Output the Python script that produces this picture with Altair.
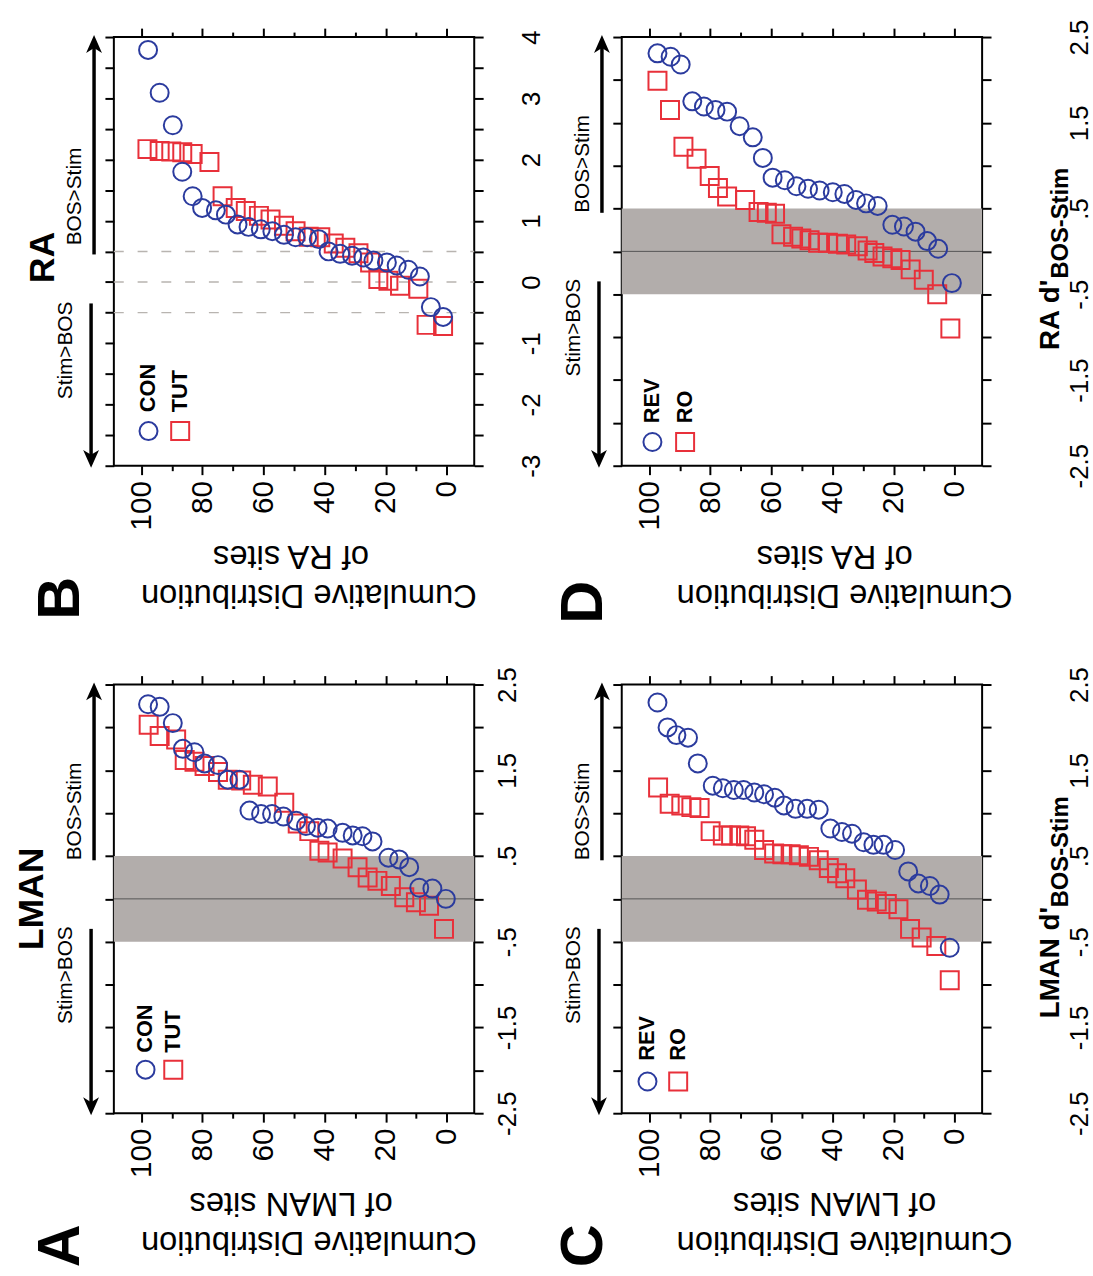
import altair as alt
import pandas as pd

# ---------------- data ----------------
# Panel A: LMAN, CON vs TUT
A_CON_CUM = [97.8, 94.0, 89.7, 86.4, 82.6, 79.3, 74.9, 71.7, 67.9, 64.6, 60.8, 57.2, 53.5, 49.3,
             46.1, 42.3, 39.0, 34.1, 30.8, 27.6, 24.3, 19.1, 15.6, 12.3, 9.0, 4.7, 0.3]
A_CON_D = [2.27, 2.24, 2.05, 1.75, 1.71, 1.58, 1.56, 1.39, 1.39, 1.03, 0.99, 0.99, 0.96, 0.91,
           0.85, 0.83, 0.82, 0.77, 0.74, 0.73, 0.67, 0.48, 0.46, 0.37, 0.13, 0.12, 0.0]
A_TUT_CUM = [97.6, 94.0, 88.6, 85.8, 82.6, 79.3, 74.9, 71.7, 67.3, 63.5, 58.6, 53.2, 48.8, 45.0,
             41.7, 39.0, 34.1, 29.2, 25.9, 22.7, 18.3, 13.9, 10.1, 5.8, 0.9]
A_TUT_D = [2.03, 1.90, 1.86, 1.62, 1.60, 1.55, 1.48, 1.39, 1.38, 1.33, 1.31, 1.12, 0.88, 0.79,
           0.56, 0.54, 0.47, 0.37, 0.25, 0.21, 0.15, 0.02, -0.04, -0.08, -0.35]

# Panel B: RA, CON vs TUT
B_CON_CUM = [97.8, 94.0, 89.7, 86.6, 83.2, 80.1, 75.6, 72.3, 68.5, 64.9, 60.9, 57.1, 53.3, 49.5,
             45.7, 41.9, 38.7, 34.9, 31.0, 27.3, 24.0, 19.6, 16.4, 12.6, 8.8, 5.2, 1.2]
B_CON_D = [3.79, 3.09, 2.56, 1.80, 1.40, 1.21, 1.17, 1.10, 0.94, 0.90, 0.86, 0.83, 0.77, 0.73,
           0.73, 0.70, 0.50, 0.46, 0.43, 0.40, 0.35, 0.32, 0.27, 0.20, 0.09, -0.41, -0.57]
B_TUT_CUM = [98.0, 94.0, 90.2, 86.6, 83.2, 77.7, 73.4, 69.1, 65.8, 61.5, 57.7, 53.3, 49.5, 45.2,
             41.4, 37.0, 33.2, 28.9, 25.1, 22.4, 19.1, 15.3, 9.3, 6.6, 1.2]
B_TUT_D = [2.17, 2.14, 2.13, 2.12, 2.09, 1.96, 1.40, 1.21, 1.16, 1.08, 1.02, 0.92, 0.83, 0.74,
           0.73, 0.63, 0.56, 0.47, 0.32, 0.05, 0.02, -0.06, -0.11, -0.70, -0.72]

# Panel C: LMAN, REV vs RO
C_REV_CUM = [97.3, 94.0, 91.1, 87.3, 84.1, 79.2, 75.9, 72.3, 69.1, 65.6, 62.4, 58.9, 55.9, 52.1,
             48.3, 44.5, 40.7, 36.9, 33.6, 29.8, 26.6, 23.3, 19.5, 15.2, 11.9, 8.1, 4.9, 1.6]
C_REV_D = [2.29, 2.00, 1.91, 1.88, 1.58, 1.32, 1.29, 1.27, 1.27, 1.24, 1.22, 1.18, 1.09, 1.05,
           1.05, 1.04, 0.82, 0.78, 0.76, 0.66, 0.63, 0.63, 0.57, 0.32, 0.18, 0.15, 0.05, -0.57]
C_RO_CUM = [97.1, 93.3, 89.5, 86.2, 83.5, 79.9, 75.9, 73.2, 70.5, 68.3, 65.6, 62.4, 59.1, 56.4,
            53.7, 51.0, 47.7, 44.5, 41.2, 38.5, 35.8, 32.0, 28.7, 25.5, 22.2, 18.4, 14.6, 10.8, 6.0, 1.6]
C_RO_D = [1.30, 1.11, 1.09, 1.07, 1.06, 0.79, 0.74, 0.74, 0.74, 0.73, 0.69, 0.57, 0.53, 0.52,
          0.52, 0.51, 0.49, 0.45, 0.36, 0.30, 0.24, 0.11, -0.01, -0.03, -0.06, -0.12, -0.35, -0.45, -0.55, -0.95]

# Panel D: RA, REV vs RO
D_REV_CUM = [97.3, 93.0, 89.7, 85.9, 82.1, 78.3, 74.5, 70.4, 66.1, 62.8, 59.6, 55.6, 51.8, 48.0,
             44.2, 39.9, 36.1, 32.3, 29.0, 25.2, 20.4, 16.6, 12.8, 9.0, 5.4, 0.9]
D_REV_D = [2.31, 2.27, 2.18, 1.75, 1.69, 1.65, 1.63, 1.46, 1.33, 1.09, 0.86, 0.83, 0.76, 0.73,
           0.71, 0.69, 0.67, 0.60, 0.56, 0.53, 0.31, 0.29, 0.23, 0.12, 0.03, -0.37]
D_RO_CUM = [97.3, 93.2, 88.8, 84.5, 80.2, 77.5, 74.5, 68.6, 64.2, 61.5, 58.8, 56.7, 52.9, 50.2,
            47.5, 44.7, 41.5, 38.2, 35.5, 31.7, 28.5, 26.3, 23.6, 20.4, 17.7, 14.4, 10.1, 5.7, 1.4]
D_RO_D = [1.99, 1.65, 1.22, 1.08, 0.88, 0.74, 0.64, 0.60, 0.46, 0.45, 0.44, 0.20, 0.17, 0.15,
          0.13, 0.10, 0.10, 0.09, 0.08, 0.06, 0.01, -0.02, -0.06, -0.08, -0.10, -0.21, -0.33, -0.50, -0.90]

CUM_TICKS = [0, 10, 20, 30, 40, 50, 60, 70, 80, 90, 100]
D_TICKS_25 = [-2.5, -2.0, -1.5, -1.0, -0.5, 0.0, 0.5, 1.0, 1.5, 2.0, 2.5]
D_TICKS_RA = [-3.0, -2.5, -2.0, -1.5, -1.0, -0.5, 0.0, 0.5, 1.0, 1.5, 2.0, 2.5, 3.0, 3.5, 4.0]

# ---------------- style ----------------
FONT = "Liberation Sans"
W, H = 364, 433
BLUE = "#2b3b9e"
RED = "#e8303a"
BAND = "#b2adab"
XDOM = [-9, 109]
UP = "M0,-1L0.8,0.8L0,0.3L-0.8,0.8Z"
DOWN = "M0,1L0.8,-0.8L0,-0.3L-0.8,-0.8Z"

CUM_LAB = "datum.value % 20 == 0 ? toString(datum.value) : ''"
CUM_TICK = {"condition": {"test": "datum.value % 20 == 0", "value": 9}, "value": 5}
YLAB_HALF = ("(abs(datum.value*2) % 2 == 1) ? ((datum.value < 0 ? '-' : '') + "
             "(abs(datum.value) < 1 ? '.5' : toString(abs(datum.value)))) : ''")
YLAB_INT = "(datum.value % 1 == 0) ? ((datum.value < 0 ? '-' : '') + toString(abs(datum.value))) : ''"


def one():
    return pd.DataFrame({"k": [0]})


def txt(t, x, y, size, weight="normal", angle=270, align="center", baseline="middle"):
    return alt.Chart(one()).mark_text(
        text=t, font=FONT, fontSize=size, fontWeight=weight, angle=angle,
        align=align, baseline=baseline, color="black"
    ).encode(x=alt.value(x), y=y)


def make_panel(p):
    xs = alt.Scale(domain=XDOM, reverse=True, nice=False, zero=False)
    ys = alt.Scale(domain=p["ydom"], nice=False, zero=False)

    def yd(v):
        return alt.YDatum(v, scale=ys, axis=None)

    layers = []
    if p["band"]:
        layers.append(alt.Chart(one()).mark_rect(color=BAND).encode(
            x=alt.value(0), x2=alt.value(W), y=yd(0.5), y2=alt.datum(-0.5)))
        layers.append(alt.Chart(one()).mark_rule(color="#555555", strokeWidth=1).encode(
            x=alt.value(0), x2=alt.value(W), y=yd(0.0)))
    else:
        for v in [0.5, 0.0, -0.5]:
            layers.append(alt.Chart(one()).mark_rule(
                color="#b8b4b0", strokeWidth=1.5, strokeDash=[10, 14]).encode(
                x=alt.value(0), x2=alt.value(W), y=yd(v)))

    df1 = pd.DataFrame({"cum": p["c1"], "d": p["d1"]})
    df2 = pd.DataFrame({"cum": p["c2"], "d": p["d2"]})

    top_axis = alt.Axis(orient="top", values=CUM_TICKS, labels=False, tickSize=CUM_TICK,
                        title=None, domain=False, grid=False)
    left_axis = alt.Axis(orient="left", values=p["yticks"], labels=False, tickSize=9,
                         title=None, domain=False, grid=False)
    bottom_axis = alt.Axis(orient="bottom", values=CUM_TICKS, labelExpr=CUM_LAB, tickSize=CUM_TICK,
                           labelAngle=270, labelAlign="right", labelBaseline="middle",
                           labelFontSize=30, labelPadding=6, labelOverlap=False,
                           title=None, domain=False, grid=False)
    right_axis = alt.Axis(orient="right", values=p["yticks"], labelExpr=p["ylab"], tickSize=9,
                          labelAngle=270, labelAlign="center", labelBaseline="top",
                          labelFontSize=26, labelPadding=p["lpad"], labelOverlap=False,
                          title=None, domain=False, grid=False)

    layers.append(alt.Chart(df2).mark_point(
        shape="square", size=330, strokeWidth=2, color=RED, filled=False, opacity=1).encode(
        x=alt.X("cum:Q", scale=xs, axis=top_axis),
        y=alt.Y("d:Q", scale=ys, axis=left_axis)))
    layers.append(alt.Chart(df1).mark_point(
        shape="circle", size=330, strokeWidth=2, color=BLUE, filled=False, opacity=1).encode(
        x=alt.X("cum:Q", scale=xs, axis=bottom_axis),
        y=alt.Y("d:Q", scale=ys, axis=right_axis)))

    # legend
    lx1, lx2, ly, lt = p["leg"]
    layers.append(alt.Chart(one()).mark_point(
        shape="circle", size=330, strokeWidth=2, color=BLUE, filled=False, opacity=1).encode(
        x=alt.value(lx1), y=alt.value(ly)))
    layers.append(alt.Chart(one()).mark_point(
        shape="square", size=330, strokeWidth=2, color=RED, filled=False, opacity=1).encode(
        x=alt.value(lx2), y=alt.value(ly)))
    layers.append(txt(p["names"][0], lx1, alt.value(lt), 22, "bold", align="left"))
    layers.append(txt(p["names"][1], lx2, alt.value(lt), 22, "bold", align="left"))

    # direction arrows
    layers.append(alt.Chart(one()).mark_rule(color="black", strokeWidth=3.5).encode(
        x=alt.value(-20), y=yd(0.45), y2=alt.value(4)))
    layers.append(alt.Chart(one()).mark_point(shape=UP, size=400, filled=True, color="black",
                                              opacity=1).encode(x=alt.value(-20), y=alt.value(8)))
    layers.append(alt.Chart(one()).mark_rule(color="black", strokeWidth=3.5).encode(
        x=alt.value(-23), y=yd(-0.35), y2=alt.value(H - 4)))
    layers.append(alt.Chart(one()).mark_point(shape=DOWN, size=400, filled=True, color="black",
                                              opacity=1).encode(x=alt.value(-23), y=alt.value(H - 8)))
    layers.append(txt("BOS>Stim", -39, yd(p["bos_at"]), 21, align="left"))
    layers.append(txt("Stim>BOS", -48, yd(-0.32), 21, align="right"))

    # y-axis (cumulative) title, upside down
    tx1, tx2 = p["tx"]
    layers.append(txt("Cumulative Distribution", tx1, alt.value(H + 130), 33, angle=180))
    layers.append(txt("of " + p["site"] + " sites", tx2, alt.value(H + 91), 33, angle=180))

    # panel letter
    lx, lyy = p["letter_xy"]
    layers.append(txt(p["letter"], lx, alt.value(lyy), 60, "bold"))

    # column title
    if p.get("region"):
        rx, rd = p["region"]
        layers.append(txt(p["site"], rx, yd(rd), 36, "bold"))

    # d' axis title with subscript
    if p.get("dtitle"):
        mx, my, sy = p["dtitle"]
        layers.append(txt(p["site"] + " d'", mx, alt.value(my), 28, "bold", align="left"))
        layers.append(txt("BOS-Stim", mx + 10, alt.value(sy), 24, "bold", align="left"))

    if p.get("anchor"):
        layers.append(alt.Chart(one()).mark_point(size=1, opacity=0).encode(
            x=alt.value(-113), y=alt.value(-50)))

    return alt.layer(*layers).properties(width=W, height=H).resolve_axis(
        x="independent", y="independent")


pA = make_panel(dict(c1=A_CON_CUM, d1=A_CON_D, c2=A_TUT_CUM, d2=A_TUT_D, names=["CON", "TUT"],
                     ydom=[-2.5, 2.5], yticks=D_TICKS_25, ylab=YLAB_HALF, lpad=12, band=True,
                     leg=[32, 60, 389, 372], bos_at=0.45, tx=[197, 179], letter="A",
                     letter_xy=[-53, H + 134], site="LMAN", region=[-83, 0.0]))
pB = make_panel(dict(c1=B_CON_CUM, d1=B_CON_D, c2=B_TUT_CUM, d2=B_TUT_D, names=["CON", "TUT"],
                     ydom=[-3, 4], yticks=D_TICKS_RA, ylab=YLAB_INT, lpad=36, band=False,
                     leg=[35, 67, 398, 379], bos_at=0.6, tx=[197, 179], letter="B",
                     letter_xy=[-53, H + 134], site="RA", region=[-71, 0.4], anchor=True))
pC = make_panel(dict(c1=C_REV_CUM, d1=C_REV_D, c2=C_RO_CUM, d2=C_RO_D, names=["REV", "RO"],
                     ydom=[-2.5, 2.5], yticks=D_TICKS_25, ylab=YLAB_HALF, lpad=76, band=True,
                     leg=[26, 57, 401, 380], bos_at=0.45, tx=[225, 215], letter="C",
                     letter_xy=[-38, H + 134], site="LMAN", dtitle=[434, 337, 225]))
pD = make_panel(dict(c1=D_REV_CUM, d1=D_REV_D, c2=D_RO_CUM, d2=D_RO_D, names=["REV", "RO"],
                     ydom=[-2.5, 2.5], yticks=D_TICKS_25, ylab=YLAB_HALF, lpad=76, band=True,
                     leg=[31, 64, 409, 390], bos_at=0.45, tx=[225, 215], letter="D",
                     letter_xy=[-38, H + 138], site="RA", dtitle=[434, 316, 244]))

chart = alt.concat(pB, pD, pA, pC, columns=2, spacing={"row": 221, "column": 149},
                   bounds="flush").properties(
    padding={"left": 0, "top": -21, "right": 0, "bottom": 0}, background="white"
).configure_view(stroke="black", strokeWidth=2).configure_axis(
    tickColor="black", tickWidth=2, labelFont=FONT, labelColor="black"
)

chart.save("out.html", embed_options={"renderer": "svg", "actions": False})
